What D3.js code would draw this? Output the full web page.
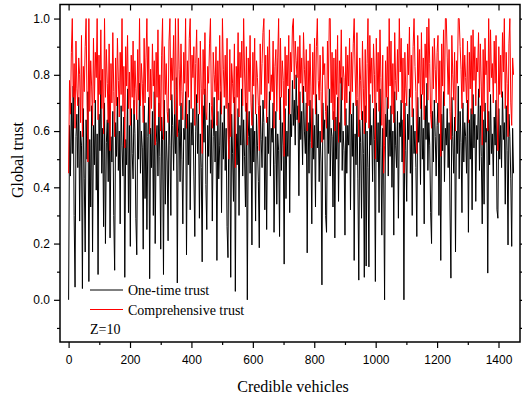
<!DOCTYPE html>
<html><head><meta charset="utf-8">
<script src="https://cdn.jsdelivr.net/npm/d3@7"></script>
<style>body{margin:0;background:#fff} svg{display:block}</style>
</head><body>
<svg id="c" width="522" height="403"></svg>
<script>
// sampled every 3 credible vehicles (0..1449)
const step = 3;
const oneTime = [
0,.62,.44,.70,.52,.76,.30,.045,.58,.66,
.47,.72,.28,.60,.55,.04,.68,.43,.17,.64,
.50,.74,.065,.57,.33,.69,.17,.62,.48,.71,
.39,.59,.09,.66,.53,.78,.45,.61,.26,.70,
.20,.56,.64,.42,.73,.22,.58,.49,.67,.30,
.105,.63,.51,.72,.46,.60,.27,.69,.55,.44,
.65,.08,.57,.48,.75,.31,.62,.19,.68,.52,
.43,.71,.59,.29,.16,.64,.50,.77,.45,.60,
.54,.18,.69,.36,.63,.25,.58,.72,.075,.61,
.47,.67,.30,.74,.20,.56,.62,.44,.70,.51,
.18,.65,.57,.09,.71,.34,.60,.49,.21,.68,
.55,.30,.73,.62,.46,.66,.52,.79,.06,.59,
.64,.42,.70,.50,.27,.61,.57,.74,.16,.66,
.48,.71,.32,.63,.55,.68,.44,.225,.60,.73,
.52,.66,.29,.59,.47,.135,.69,.56,.75,.41,
.25,.62,.51,.70,.45,.64,.28,.58,.72,.49,
.60,.14,.67,.43,.55,.74,.31,.63,.50,.69,
.46,.61,.26,.15,.70,.57,.08,.66,.52,.35,
.72,.03,.59,.48,.68,.30,.62,.55,.75,.44,
.64,.51,.33,.70,0,.58,.67,.45,.61,.195,
.73,.49,.60,.28,.66,.55,.42,.185,.69,.57,
.47,.71,.63,.32,.58,.25,.65,.52,.74,.44,
.61,.56,.70,.24,.48,.67,.34,.59,.53,.225,
.72,.46,.63,.55,.127,.68,.36,.60,.51,.75,
.31,.66,.58,.78,.62,.71,.55,.80,.64,.69,
.37,.74,.57,.67,.48,.76,.60,.52,.70,.167,
.63,.45,.71,.56,.27,.68,.50,.62,.33,.73,
.54,.66,.42,.60,.49,.053,.70,.57,.64,.30,
.24,.69,.52,.75,.44,.61,.58,.33,.67,.22,
.65,.50,.72,.35,.63,.56,.79,.46,.60,.53,
.23,.68,.45,.62,.55,.74,.32,.66,.51,.70,
.14,.59,.48,.71,.43,.07,.64,.56,.29,.67,
.52,.08,.69,.12,.60,.47,.117,.73,.55,.62,
.42,.68,.57,.065,.70,.49,.63,.31,.75,.54,
.23,.61,.46,0,.66,.58,.72,.44,.64,.51,
.69,.40,.60,.23,.74,.55,.47,.67,.29,.63,
.58,.71,.49,.64,0,.70,.53,.35,.66,.57,
.75,.45,.62,.30,.68,.52,.60,.47,.225,.72,
.56,.65,.41,.73,.50,.61,.27,.69,.57,.77,
.46,.63,.55,.31,.20,.67,.49,.71,.58,.44,
.62,.70,.30,.59,.14,.66,.53,.74,.42,.61,
.55,.68,.47,.63,.33,.077,.72,.58,.45,.65,
.17,.60,.52,.76,.43,.67,.56,.31,.70,.49,
.63,.58,.45,.71,.24,.64,.50,.68,.32,.73,
.54,.66,.35,.62,.57,.75,.46,.69,.51,.27,
.64,.34,.70,.56,.61,.095,.67,.48,.73,.52,
.59,.44,.65,.55,.71,.32,.29,.68,.50,.62,
.47,.74,.57,.63,.34,.69,.53,.195,.66,.58,
.43,.19,.61,.45];
const comprehensive = [
.45,.78,.66,.88,1,.72,.84,.61,.92,.75,
.69,.86,.80,.63,.94,.58,.83,.74,.90,1,
.71,.49,1,.67,.85,.76,.62,.93,.70,.88,
.79,1,.64,.87,.73,.96,.68,.82,.59,1,
.72,.89,.77,.63,.91,.53,.84,.70,.95,.74,
.58,.86,.69,.93,.78,.65,.88,.73,1,.67,
.83,.54,.90,.76,.94,.68,.81,.62,.87,.72,
.92,.66,.85,.75,.64,.89,.71,1,.69,.84,
.77,.63,.93,.70,.86,1,.74,.90,.59,.82,
.68,.91,.76,.85,.55,.88,.72,.96,.65,.80,
.60,.87,1,.57,.90,.73,.84,.67,.63,.92,
1,.71,.86,.78,.94,.66,1,.75,.58,1,
.82,.69,.91,.74,.64,.88,.77,1,.61,.85,
.72,.93,1,.68,.87,.79,.90,.62,.84,.96,
.70,.86,.66,.92,.75,.52,.89,.73,.95,.67,
.64,.83,.77,.91,1,.69,.61,.88,.80,.74,
.90,.62,.85,.71,.94,.76,.66,1,.82,.72,
.87,.68,.93,.60,.50,.89,.58,.84,.77,.70,
.91,.47,.83,.72,.95,.65,.88,.79,.92,.69,
1,.81,.67,.90,.55,.86,.74,.94,.70,.62,
.88,.76,.93,.66,.85,.79,.69,.53,.91,.73,
.84,.95,1,.68,.87,.63,.90,.77,.96,.71,
.80,.74,.92,.61,.83,.89,.67,.86,1,.64,
.93,.72,.85,.78,.51,.90,.69,.87,.76,.94,
.66,.88,.81,.97,1,.75,.92,.85,.79,.90,
.63,.94,.77,.86,.70,.95,.82,.74,.89,.60,
.85,.69,.91,.76,.54,.88,.73,.93,.66,.90,
1,.78,.71,.87,.74,.56,.90,.80,.84,.67,
.61,.92,.75,1,1,.70,.88,.64,.86,.60,
.89,.73,.94,.56,.85,.77,.96,.71,.83,.79,
.62,.90,.70,.87,.76,.93,.66,.88,.74,.91,
1,.81,.69,.95,.72,.58,.86,.78,.64,.92,
.75,.59,.89,.63,.84,1,.61,.94,.77,.86,
.70,.91,.80,.50,.93,.74,.88,.67,.96,.79,
.62,.87,.45,.55,.85,.72,.90,.68,1,.76,
.92,.66,.84,.63,.95,.78,.71,.89,.74,1,
.81,.93,.70,.86,.45,.88,.75,.69,.91,.80,
.97,.72,.87,.65,.90,1,.83,.74,.52,.94,
.77,.89,.68,.95,.73,.86,.64,.91,.79,.97,
.71,1,.84,.66,.61,.90,.75,.93,.82,.70,
.88,.94,.63,.85,.51,.91,.76,.96,.69,1,
1,.86,.73,.89,.67,.57,.94,.80,.71,.88,
.60,.85,.77,1,1,.90,.82,.68,.93,.74,
.87,.79,.70,.92,.63,.88,.75,.94,.66,.96,
.78,.90,.69,.86,.81,.95,.72,.91,.76,.55,
.89,.67,.93,.80,.85,.60,1,.74,.96,.79,
.84,.70,.92,.77,.94,.66,.53,.90,.73,.87,
.72,.95,.81,1,.68,.88,.77,.58,.91,1,
.70,.62,.86,.80];
const xTicks = [0,200,400,600,800,1000,1200,1400];
const xMinorTicks = [100,300,500,700,900,1100,1300];
const yTicks = [0.0,0.2,0.4,0.6,0.8,1.0];
const yMinorTicks = [-0.1,0.1,0.3,0.5,0.7,0.9];
const seriesNames = ["One-time trust","Comprehensive trust"];
const seriesColors = ["#000000","#ff0000"];
const note = "Z=10";
const xTitle = "Credible vehicles";
const yTitle = "Global trust";

const svg = d3.select("#c");
const L = 60, R = 520, T = 4.5, B = 342;
const x = d3.scaleLinear().domain([-28, 1470]).range([L, R]);
const y = d3.scaleLinear().domain([-0.15, 1.05]).range([B, T]);
const vehicles = d3.range(0, oneTime.length).map(i => i * step);

const line = d3.line().x((d, i) => x(vehicles[i])).y(d => y(d));
const series = [oneTime, comprehensive];
series.forEach((s, k) => {
  svg.append("path").datum(s).attr("d", line)
    .attr("fill", "none").attr("stroke", seriesColors[k]).attr("stroke-width", 1);
});

const tickFont = g => g.selectAll("text").attr("font-family", "Liberation Sans, Arial, sans-serif").attr("font-size", 12).attr("fill", "#000");
const clean = g => { g.select(".domain").remove(); g.selectAll("line").attr("stroke", "#000").attr("stroke-width", 1.2); };

// bottom
svg.append("g").attr("transform", `translate(0,${B})`)
  .call(d3.axisBottom(x).tickValues(xTicks).tickSize(6).tickPadding(7).tickFormat(d3.format("d")))
  .call(clean).call(tickFont);
svg.append("g").attr("transform", `translate(0,${B})`)
  .call(d3.axisBottom(x).tickValues(xMinorTicks).tickSize(3).tickFormat(""))
  .call(clean);
// top (inward)
svg.append("g").attr("transform", `translate(0,${T})`)
  .call(d3.axisBottom(x).tickValues(xTicks).tickSize(6).tickFormat(""))
  .call(clean);
svg.append("g").attr("transform", `translate(0,${T})`)
  .call(d3.axisBottom(x).tickValues(xMinorTicks).tickSize(3).tickFormat(""))
  .call(clean);
// left
svg.append("g").attr("transform", `translate(${L},0)`)
  .call(d3.axisLeft(y).tickValues(yTicks).tickSize(6).tickPadding(4).tickFormat(d3.format(".1f")))
  .call(clean).call(tickFont);
svg.append("g").attr("transform", `translate(${L},0)`)
  .call(d3.axisLeft(y).tickValues(yMinorTicks).tickSize(3).tickFormat(""))
  .call(clean);
// right
svg.append("g").attr("transform", `translate(${R},0)`)
  .call(d3.axisRight(y).tickValues(yTicks).tickSize(6).tickFormat(""))
  .call(clean);
svg.append("g").attr("transform", `translate(${R},0)`)
  .call(d3.axisRight(y).tickValues(yMinorTicks).tickSize(3).tickFormat(""))
  .call(clean);

// frame
svg.append("rect").attr("x", L).attr("y", T).attr("width", R - L).attr("height", B - T)
  .attr("fill", "none").attr("stroke", "#000").attr("stroke-width", 1.5);

// titles
svg.append("text").attr("x", (L + R) / 2 + 3).attr("y", 392).attr("text-anchor", "middle")
  .attr("font-family", "Liberation Serif, Times New Roman, serif").attr("font-size", 16).text(xTitle);
svg.append("text").attr("transform", "translate(23,160) rotate(-90)").attr("text-anchor", "middle")
  .attr("font-family", "Liberation Serif, Times New Roman, serif").attr("font-size", 16).text(yTitle);

// legend
const lg = svg.append("g");
seriesNames.forEach((n, k) => {
  const yy = 290 + k * 20;
  lg.append("line").attr("x1", 90).attr("x2", 123).attr("y1", k === 0 ? yy : yy - 0.5).attr("y2", k === 0 ? yy : yy - 0.5)
    .attr("stroke", seriesColors[k]).attr("stroke-width", 1);
  lg.append("text").attr("x", 128).attr("y", yy + 4.5)
    .attr("font-family", "Liberation Serif, Times New Roman, serif").attr("font-size", 14).text(n);
});
lg.append("text").attr("x", 90).attr("y", 334)
  .attr("font-family", "Liberation Serif, Times New Roman, serif").attr("font-size", 14).text(note);
</script>
</body></html>
